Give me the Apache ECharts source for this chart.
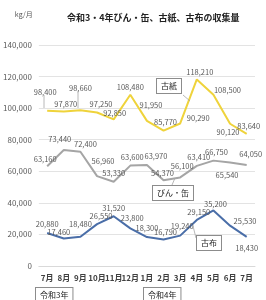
<!DOCTYPE html>
<html lang="ja">
<head>
    <meta charset="UTF-8">
    <title>chart</title>
    <style>
        html, body { margin: 0; padding: 0; background: #fff; }
    </style>
</head>
<body>
<div id="container" style="width:266px;height:300px"></div>
<script type="text/javascript" src="https://cdn.jsdelivr.net/npm/echarts@6/dist/echarts.min.js"></script>
<script type="text/javascript">
    var months = ['7月', '8月', '9月', '10月', '11月', '12月', '1月', '2月', '3月', '4月', '5月', '6月', '7月'];
    var koshi = [98400, 97870, 98660, 97250, 92850, 108480, 91950, 85770, 90290, 118210, 108500, 90120, 83640];
    var binkan = [63160, 73440, 72400, 56960, 53330, 63600, 63970, 54370, 56100, 63410, 66750, 65540, 64050];
    var kofu = [20880, 17460, 18480, 26550, 31520, 23800, 18300, 16790, 19240, 29150, 35200, 25530, 18430];
    var yTicks = [0, 20000, 40000, 60000, 80000, 100000, 120000, 140000];

    var textColor = '#595959';
    var gridColor = '#e3e3e3';
    var fontFamily = '"Noto Sans CJK JP", "Noto Sans", sans-serif';

    // データラベルのずらし量 [dx, dy]（既定は点の上）
    var koshiOffsets = [[-2, -13], [2, -2], [0, -16], [4, -3], [1, -1], [0, -2], [4, -10], [2, -3], [18, 0], [3, -1], [14, 1], [-2, 14], [2, -2]];
    var binkanOffsets = [[-2, -1], [-4, -5], [5, -2], [6, -9], [0, -3], [2, -3], [9, -3], [-1, -1], [2, -6], [2, -3], [3, -3], [-3, 18], [4, -5]];
    var kofuOffsets = [[0, -3], [-5, -1], [0, -7], [4, -2], [0, -2], [2, -5], [0, -3], [2, -2], [2, -4], [2, -2], [2, -1], [15, 1], [0, 17]];

    function lineSeries(name, values, offsets, color) {
        return {
            name: name,
            type: 'line',
            data: values,
            symbol: 'circle',
            symbolSize: 0,
            showSymbol: true,
            lineStyle: {color: color, width: 2},
            itemStyle: {color: color},
            labelLayout: function (params) {
                var o = offsets[params.dataIndex] || [0, 0];
                return {dx: o[0], dy: o[1], hideOverlap: false};
            },
            label: {
                show: true, position: 'top', distance: 2, fontSize: 7.5, color: textColor,
                formatter: function (p) { return p.value.toLocaleString('en-US'); }
            }
        };
    }

    function boxText(x, y, text) {
        return {
            type: 'text',
            left: x,
            top: y,
            z: 100,
            style: {
                text: text,
                fontSize: 8,
                fontFamily: fontFamily,
                fill: '#222',
                backgroundColor: '#fff',
                borderColor: '#8c8c8c',
                borderWidth: 1,
                padding: [3, 4]
            }
        };
    }

    function leader(points) {
        return {
            type: 'polyline',
            z: 99,
            shape: {points: points},
            style: {stroke: '#a6a6a6', lineWidth: 0.8, fill: null}
        };
    }

    var dom = document.getElementById('container');
    var myChart = echarts.init(dom);
    myChart.setOption({
        animation: false,
        textStyle: {fontFamily: fontFamily},
        title: {
            text: '令和3・4年びん・缶、古紙、古布の収集量',
            left: 62,
            top: 8,
            textStyle: {fontSize: 9, fontWeight: 'bold', color: '#222', fontFamily: fontFamily}
        },
        grid: {left: 37, right: 11, top: 45, bottom: 34},
        xAxis: {
            type: 'category',
            data: months,
            boundaryGap: true,
            axisTick: {show: false},
            axisLine: {lineStyle: {color: '#d9d9d9'}},
            axisLabel: {
                color: '#404040',
                fontSize: 8,
                fontWeight: 'bold',
                interval: 0,
                margin: 8
            }
        },
        yAxis: {
            type: 'value',
            min: yTicks[0],
            max: yTicks[yTicks.length - 1],
            interval: 20000,
            name: 'kg/月',
            nameLocation: 'end',
            nameGap: 27,
            nameTextStyle: {fontSize: 7, color: textColor, align: 'left', padding: [0, 0, 0, -24]},
            axisLine: {show: false},
            axisTick: {show: false},
            splitLine: {lineStyle: {color: gridColor}},
            axisLabel: {
                color: textColor,
                fontSize: 8,
                margin: 7,
                formatter: function (val) {
                    return val.toLocaleString('en-US');
                }
            }
        },
        series: [
            lineSeries('古紙', koshi, koshiOffsets, '#efd33b'),
            lineSeries('びん・缶', binkan, binkanOffsets, '#a5a5a5'),
            lineSeries('古布', kofu, kofuOffsets, '#4a6ea8')
        ],
        graphic: [
            leader([[183, 95], [190, 101]]),
            leader([[172, 185], [175, 178]]),
            leader([[196, 238], [193, 226]]),
            leader([[44, 95], [44, 108]]),
            leader([[78, 91], [78, 108]]),
            boxText(156, 78, '古紙'),
            boxText(152, 185, 'びん・缶'),
            boxText(196, 235, '古布'),
            boxText(35, 287, '令和3年'),
            boxText(143, 287, '令和4年')
        ]
    });
</script>
</body>
</html>
